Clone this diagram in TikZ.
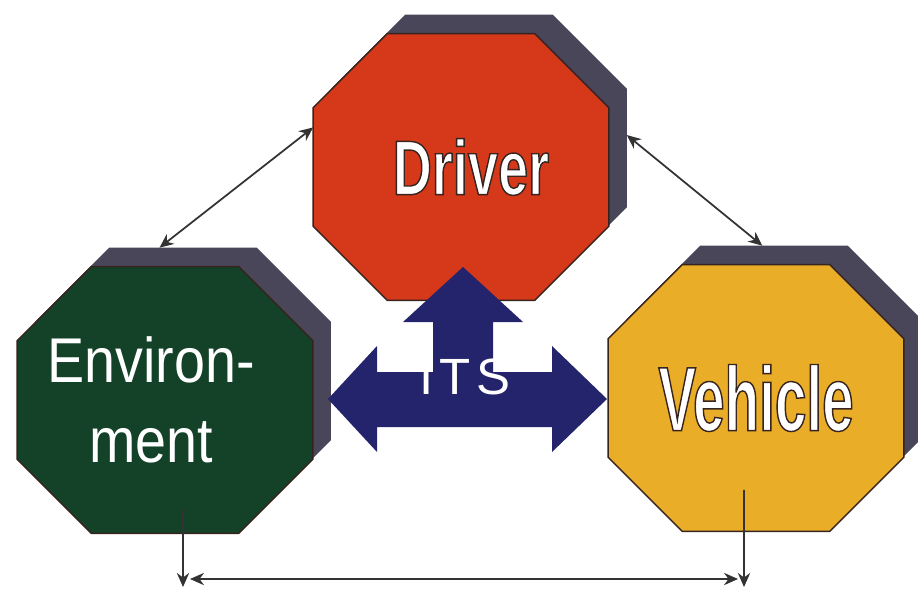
\documentclass[tikz,border=0pt]{standalone}
\usepackage{fontspec}
\usetikzlibrary{arrows.meta,backgrounds}
\setmainfont{Liberation Sans}
\newfontfamily\drvfont[FakeStretch=0.7]{Liberation Sans}
\newfontfamily\vehfont[FakeStretch=0.62]{Liberation Sans}
\newfontfamily\envfont[FakeStretch=0.88]{Liberation Sans}
\newfontfamily\itsfont[LetterSpace=12]{Liberation Sans}
\definecolor{drvred}{RGB}{214,56,26}
\definecolor{envgreen}{RGB}{20,66,40}
\definecolor{vehyellow}{RGB}{233,173,40}
\definecolor{itsblue}{RGB}{36,36,108}
\definecolor{octshadow}{RGB}{74,70,90}
\definecolor{rim}{RGB}{55,35,30}
% outlined white letters
\newcommand{\rimtext}[1]{\special{pdf:literal direct q 2 Tr 0.8 w 0.22 0.14 0.12 RG}#1\special{pdf:literal direct Q}}
% octagon round a box node
\newcommand{\octpath}[1]{([xshift=1.48cm]#1.north west) -- ([xshift=-1.48cm]#1.north east)
  -- ([yshift=-1.48cm]#1.north east) -- ([yshift=1.48cm]#1.south east)
  -- ([xshift=-1.48cm]#1.south east) -- ([xshift=1.48cm]#1.south west)
  -- ([yshift=1.48cm]#1.south west) -- ([yshift=-1.48cm]#1.north west) -- cycle}
\tikzset{
  octo/.style={minimum width=5.9cm, minimum height=5.32cm, inner sep=0pt, text=white},
  link/.style={line width=1pt, black!80},
}
\begin{document}
\begin{tikzpicture}[x=0.02cm, y=-0.02cm, >={Stealth[length=8pt,width=7pt]}]
  \useasboundingbox (0,0) rectangle (918,595);

  % shadows and fronts
  \node[octo] (drvS) at (479,148) {};
  \node[octo] (envS) at (183,381) {};
  \node[octo] (vehS) at (774,379) {};
  \node[octo] (drv) at (461,167)
    {\drvfont\bfseries\fontsize{44}{50}\selectfont\hspace*{0.4cm}\rimtext{Driver}};
  \node[octo, align=center, font=\envfont\fontsize{36}{45.5}\selectfont] (env) at (165,400)
    {Environ-\hspace*{0.56cm}\\ment\hspace*{0.56cm}};
  \node[octo] (veh) at (756,398)
    {\vehfont\bfseries\fontsize{52}{56}\selectfont\rimtext{Vehicle}};

  \begin{scope}[on background layer]
    \fill[octshadow] \octpath{drvS};
    \fill[octshadow] \octpath{envS};
    \fill[octshadow] \octpath{vehS};
    \filldraw[fill=drvred, draw=rim, line width=0.8pt] \octpath{drv};
    \filldraw[fill=envgreen, draw=rim, line width=0.8pt] \octpath{env};
    \filldraw[fill=vehyellow, draw=rim, line width=0.8pt] \octpath{veh};
  \end{scope}

  % thin links
  \draw[link,<->] (drv.165) -- (envS.100);
  \draw[link,<->] (drvS.5) -- (vehS.95);

  \coordinate (envB) at (183,587);
  \coordinate (vehB) at (744,587);
  \draw[link,->] ([xshift=0.36cm,yshift=-2.2cm]env.center) -- (envB);
  \draw[link,->] ([xshift=-0.24cm,yshift=-1.84cm]veh.center) -- (vehB);
  \draw[link,<->] ([xshift=0.14cm,yshift=0.16cm]envB) -- ([xshift=-0.12cm,yshift=0.16cm]vehB);

  % ITS arrow
  \fill[itsblue] (328,399) -- (377,346) -- (377,372) -- (433,372) -- (433,322)
    -- (403,322) -- (463,267) -- (523,322) -- (493,322) -- (493,372)
    -- (552,372) -- (552,346) -- (607,399) -- (552,452) -- (552,427)
    -- (377,427) -- (377,452) -- cycle;
  \node[text=white, font=\itsfont\fontsize{29}{30}\selectfont] (its) at (465,377) {ITS};
\end{tikzpicture}
\end{document}
